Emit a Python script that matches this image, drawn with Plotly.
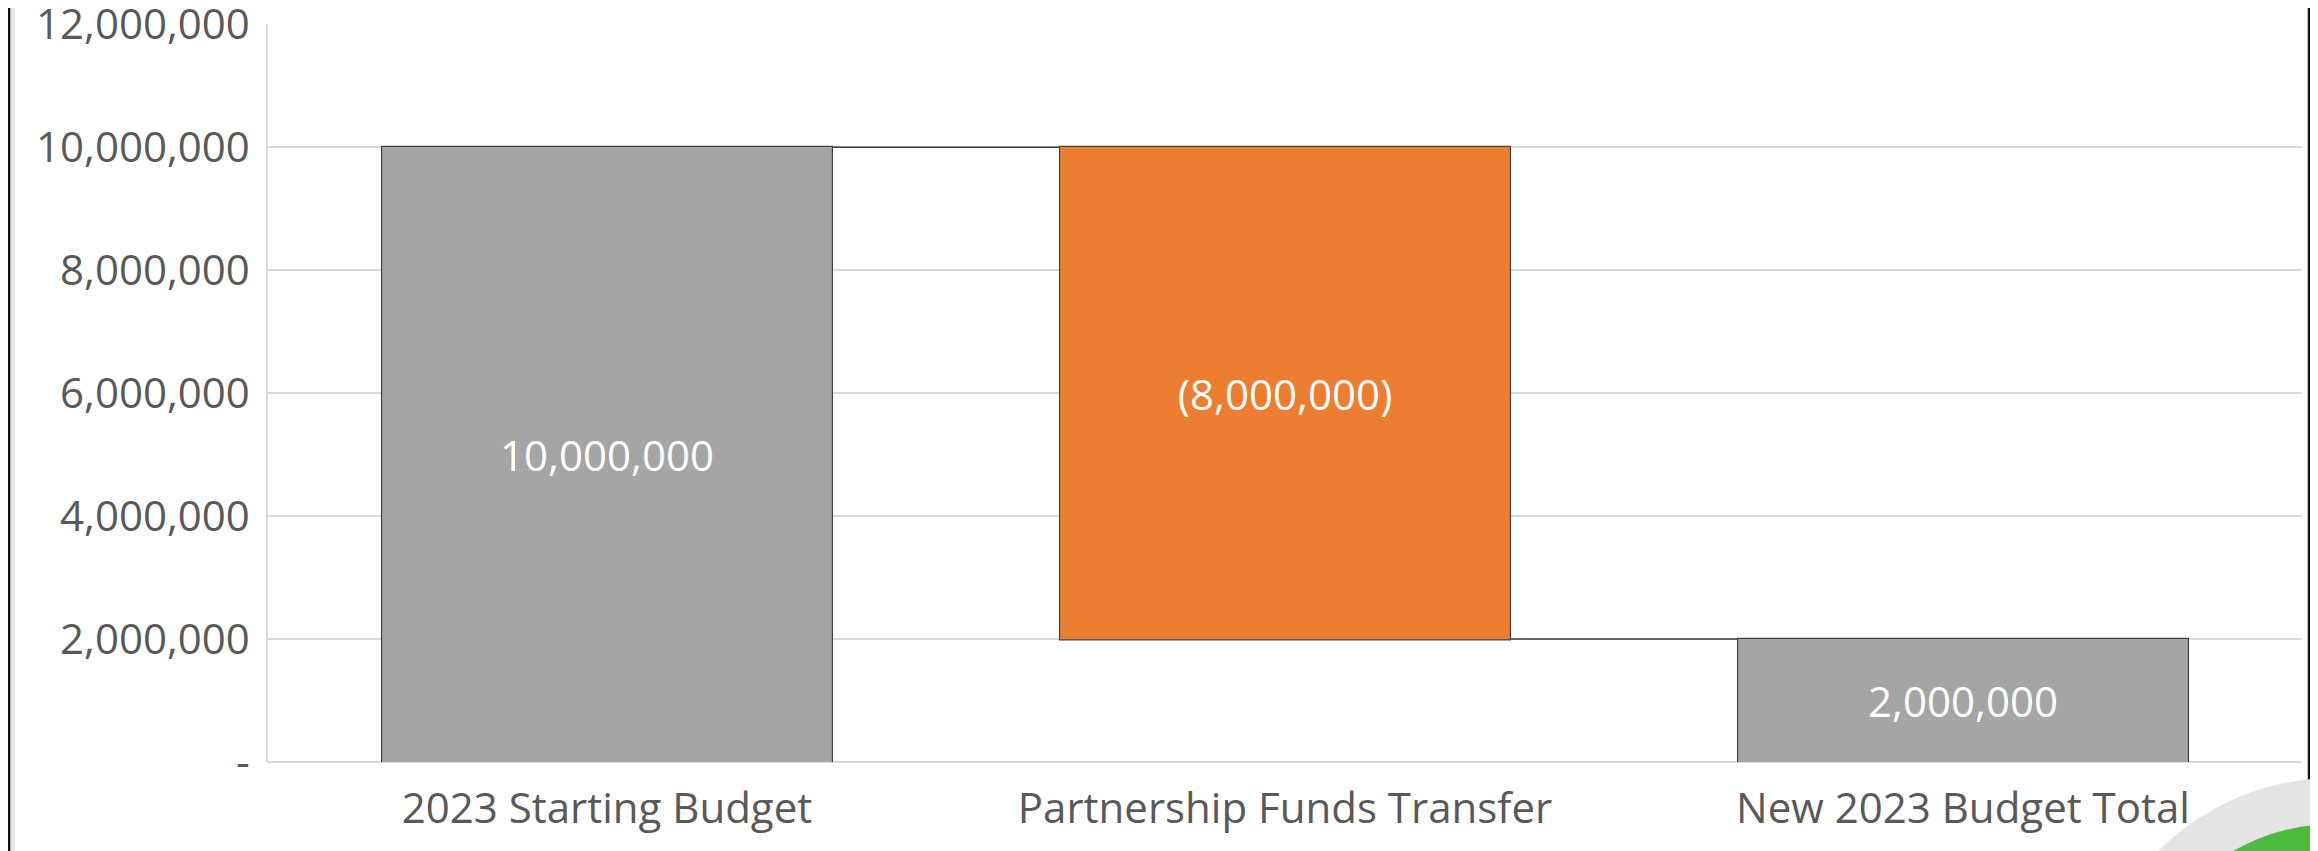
import plotly.graph_objects as go

# ---- data ----
categories = ["2023 Starting Budget", "Partnership Funds Transfer", "New 2023 Budget Total"]
measures = ["absolute", "relative", "total"]
values = [10000000, -8000000, 2000000]
tick_values = [0, 2000000, 4000000, 6000000, 8000000, 10000000, 12000000]
tick_labels = ["-", "2,000,000", "4,000,000", "6,000,000", "8,000,000", "10,000,000", "12,000,000"]


def acct(v):
    return f"({abs(v):,.0f})" if v < 0 else f"{v:,.0f}"


bar_text = [acct(v) for v in values]

# page is 2318x851; the html body adds an 8px margin
OFF = 8
W, H = 2318 - OFF, 851 - OFF
ML, MR, MT, MB = 268 - OFF, 16, 24 - OFF, 89
PW, PH = W - ML - MR, H - MT - MB


def px_x(px):
    return (px - OFF - ML) / PW


def px_y(py):
    return (H + OFF - MB - py) / PH


FONT = "Open Sans, Noto Sans, sans-serif"

fig = go.Figure(
    go.Waterfall(
        x=categories,
        y=values,
        measure=measures,
        text=bar_text,
        textposition="inside",
        insidetextanchor="middle",
        textangle=0,
        textfont=dict(family=FONT, size=42, color="white"),
        totals=dict(marker=dict(color="#a5a5a5", line=dict(color="#404040", width=1.2))),
        decreasing=dict(marker=dict(color="#ed7d31", line=dict(color="#404040", width=1.2))),
        increasing=dict(marker=dict(color="#a5a5a5", line=dict(color="#404040", width=1.2))),
        connector=dict(mode="between", line=dict(color="#404040", width=1.5)),
        hoverinfo="skip",
        cliponaxis=False,
    )
)

shapes = [
    # left window border + shadow strip
    dict(type="rect", xref="paper", yref="paper", x0=px_x(8), x1=px_x(15),
         y0=px_y(851), y1=px_y(OFF), fillcolor="#e6e6e6", line=dict(width=0), layer="above"),
    dict(type="line", xref="paper", yref="paper", x0=px_x(9), x1=px_x(9),
         y0=px_y(851), y1=px_y(OFF), line=dict(color="#111111", width=2.5), layer="above"),
    # right window border
    dict(type="line", xref="paper", yref="paper", x0=px_x(2309), x1=px_x(2309),
         y0=px_y(851), y1=px_y(OFF), line=dict(color="#111111", width=2.5), layer="above"),
    # decorative rings at bottom-right
    dict(type="circle", xref="paper", yref="paper",
         x0=px_x(2334 - 248), x1=px_x(2334 + 248), y0=px_y(1026 + 248), y1=px_y(1026 - 248),
         fillcolor="#e4e4e4", line=dict(width=0), layer="above"),
    dict(type="circle", xref="paper", yref="paper",
         x0=px_x(2334 - 202), x1=px_x(2334 + 202), y0=px_y(1026 + 202), y1=px_y(1026 - 202),
         fillcolor="#4cb93f", line=dict(width=0), layer="above"),
]

fig.update_layout(
    width=W,
    height=H,
    margin=dict(l=ML, r=MR, t=MT, b=MB, pad=0, autoexpand=False),
    paper_bgcolor="white",
    plot_bgcolor="white",
    showlegend=False,
    waterfallgap=0.335,
    font=dict(family=FONT, size=42, color="#595959"),
    shapes=shapes,
    xaxis=dict(
        showgrid=False,
        showline=False,
        ticks="",
        automargin=False,
        tickfont=dict(family=FONT, size=42, color="#595959"),
        ticklabelstandoff=18,
    ),
    yaxis=dict(
        range=[0, 12004000],
        tickvals=tick_values,
        ticktext=tick_labels,
        showgrid=True,
        gridcolor="#d9d9d9",
        gridwidth=1.5,
        zeroline=True,
        zerolinecolor="#d9d9d9",
        zerolinewidth=1.5,
        showline=True,
        linecolor="#d9d9d9",
        linewidth=1.5,
        ticks="",
        automargin=False,
        tickfont=dict(family=FONT, size=42, color="#595959"),
        ticklabelstandoff=8,
        ticklabeloverflow="allow",
    ),
)

fig.write_html("out.html", config={"displayModeBar": False})
